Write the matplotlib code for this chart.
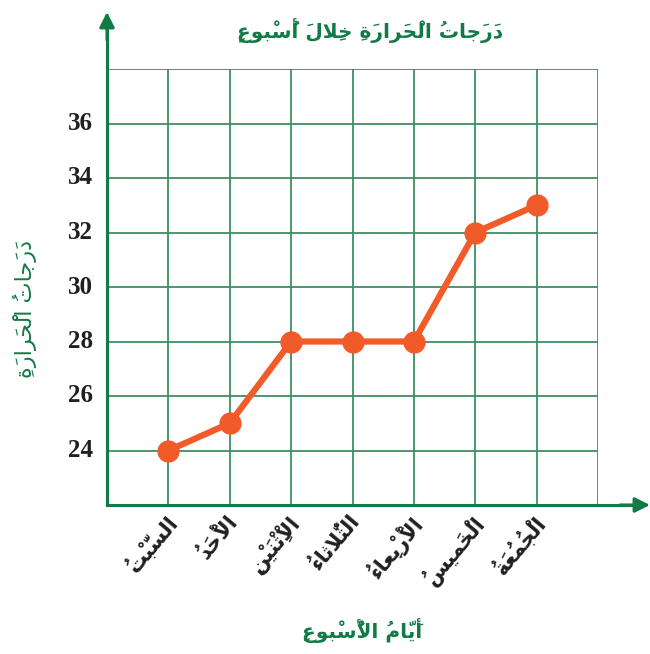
import matplotlib
matplotlib.use("Agg")
import matplotlib.pyplot as plt

# ---- data -------------------------------------------------------------
days = ["السَّبْتُ", "الْأَحَدُ", "الْاِثْنَيْنِ", "الثُّلاثاءُ",
        "الْأَرْبِعاءُ", "الْخَميسُ", "الْجُمُعَةُ"]
temps = [24, 25, 28, 28, 28, 32, 33]
y_ticks = [24, 26, 28, 30, 32, 34, 36]
title = "دَرَجاتُ الْحَرارَةِ خِلالَ أُسْبوعٍ"
x_title = "أَيّامُ الْأُسْبوعِ"
y_title = "دَرَجاتُ الْحَرارَةِ"

# ---- minimal Arabic shaping (presentation forms + visual order) -------
FORMS = {  # isolated, final, initial, medial
    "ء": (0xFE80, None, None, None),
    "آ": (0xFE81, 0xFE82, None, None),
    "أ": (0xFE83, 0xFE84, None, None),
    "ؤ": (0xFE85, 0xFE86, None, None),
    "إ": (0xFE87, 0xFE88, None, None),
    "ئ": (0xFE89, 0xFE8A, 0xFE8B, 0xFE8C),
    "ا": (0xFE8D, 0xFE8E, None, None),
    "ب": (0xFE8F, 0xFE90, 0xFE91, 0xFE92),
    "ة": (0xFE93, 0xFE94, None, None),
    "ت": (0xFE95, 0xFE96, 0xFE97, 0xFE98),
    "ث": (0xFE99, 0xFE9A, 0xFE9B, 0xFE9C),
    "ج": (0xFE9D, 0xFE9E, 0xFE9F, 0xFEA0),
    "ح": (0xFEA1, 0xFEA2, 0xFEA3, 0xFEA4),
    "خ": (0xFEA5, 0xFEA6, 0xFEA7, 0xFEA8),
    "د": (0xFEA9, 0xFEAA, None, None),
    "ذ": (0xFEAB, 0xFEAC, None, None),
    "ر": (0xFEAD, 0xFEAE, None, None),
    "ز": (0xFEAF, 0xFEB0, None, None),
    "س": (0xFEB1, 0xFEB2, 0xFEB3, 0xFEB4),
    "ش": (0xFEB5, 0xFEB6, 0xFEB7, 0xFEB8),
    "ص": (0xFEB9, 0xFEBA, 0xFEBB, 0xFEBC),
    "ض": (0xFEBD, 0xFEBE, 0xFEBF, 0xFEC0),
    "ط": (0xFEC1, 0xFEC2, 0xFEC3, 0xFEC4),
    "ظ": (0xFEC5, 0xFEC6, 0xFEC7, 0xFEC8),
    "ع": (0xFEC9, 0xFECA, 0xFECB, 0xFECC),
    "غ": (0xFECD, 0xFECE, 0xFECF, 0xFED0),
    "ف": (0xFED1, 0xFED2, 0xFED3, 0xFED4),
    "ق": (0xFED5, 0xFED6, 0xFED7, 0xFED8),
    "ك": (0xFED9, 0xFEDA, 0xFEDB, 0xFEDC),
    "ل": (0xFEDD, 0xFEDE, 0xFEDF, 0xFEE0),
    "م": (0xFEE1, 0xFEE2, 0xFEE3, 0xFEE4),
    "ن": (0xFEE5, 0xFEE6, 0xFEE7, 0xFEE8),
    "ه": (0xFEE9, 0xFEEA, 0xFEEB, 0xFEEC),
    "و": (0xFEED, 0xFEEE, None, None),
    "ى": (0xFEEF, 0xFEF0, None, None),
    "ي": (0xFEF1, 0xFEF2, 0xFEF3, 0xFEF4),
}
LAM_ALEF = {"آ": (0xFEF5, 0xFEF6), "أ": (0xFEF7, 0xFEF8),
            "إ": (0xFEF9, 0xFEFA), "ا": (0xFEFB, 0xFEFC)}
MARKS = set(chr(c) for c in range(0x064B, 0x0653)) | {"\u0670"}


def shape(text):
    """Return Arabic text as joined presentation forms in left-to-right order."""
    clusters = []
    for ch in text:
        if ch in MARKS and clusters:
            clusters[-1][1].append(ch)
        else:
            clusters.append([ch, []])
    # lam-alef ligatures
    merged = []
    i = 0
    while i < len(clusters):
        base, marks = clusters[i]
        if base == "ل" and i + 1 < len(clusters) and clusters[i + 1][0] in LAM_ALEF:
            merged.append([("LA", clusters[i + 1][0]), marks + clusters[i + 1][1]])
            i += 2
        else:
            merged.append([base, marks])
            i += 1

    def joins(b):
        return b[0] == "LA" if isinstance(b, tuple) else b in FORMS

    def dual(b):
        return (not isinstance(b, tuple)) and b in FORMS and FORMS[b][2] is not None

    out = []
    for k, (base, marks) in enumerate(merged):
        prev = merged[k - 1][0] if k > 0 else None
        nxt = merged[k + 1][0] if k + 1 < len(merged) else None
        jp = prev is not None and dual(prev) and joins(base)
        jn = dual(base) and nxt is not None and joins(nxt)
        if isinstance(base, tuple):
            iso, fin = LAM_ALEF[base[1]]
            g = chr(fin if jp else iso)
        elif base in FORMS:
            f = FORMS[base]
            if jp and jn:
                g = chr(f[3])
            elif jp:
                g = chr(f[1])
            elif jn:
                g = chr(f[2])
            else:
                g = chr(f[0])
        else:
            g = base
        # zero-width marks sit on the glyph that follows them
        out.append("".join(marks) + g)
    return "".join(reversed(out))


# ---- styling ----------------------------------------------------------
GREEN = "#117a45"
GRID = "#3f8f63"
ORANGE = "#f15a29"
INK = "#231f20"
AR_FONT = ["DejaVu Sans"]
NUM_FONT = ["Liberation Serif", "DejaVu Serif"]

fig = plt.figure(figsize=(6.5, 6.54), dpi=100)
W, H = 650, 654
ax = fig.add_axes([107 / W, 1 - 505 / H, 491 / W, 436 / H])

ax.set_xlim(0, 8)
ax.set_ylim(22, 38)
ax.set_xticks(range(0, 9))
ax.set_yticks(range(22, 39, 2))
ax.grid(True, color=GRID, linewidth=1.3)
ax.tick_params(length=0, labelbottom=False, labelleft=False)
for s in ax.spines.values():
    s.set_visible(False)
ax.set_axisbelow(True)

xs = list(range(1, len(temps) + 1))
ax.plot(xs, temps, color=ORANGE, linewidth=4.5, marker="o", markersize=15,
        markerfacecolor=ORANGE, markeredgecolor=ORANGE, zorder=3,
        solid_capstyle="round")

# axes with arrow heads
fig.add_artist(plt.Line2D([107 / W, 107 / W], [1 - 505 / H, 1 - 25 / H],
                          color=GREEN, linewidth=2.2))
fig.add_artist(plt.Line2D([107 / W, 632 / W], [1 - 505 / H, 1 - 505 / H],
                          color=GREEN, linewidth=2.2))
ax.annotate("", xy=(107 / W, 1 - 12 / H), xytext=(107 / W, 1 - 40 / H),
            xycoords="figure fraction", textcoords="figure fraction",
            arrowprops=dict(arrowstyle="-|>,head_length=0.9,head_width=0.45",
                            color=GREEN, lw=2.2, shrinkA=0, shrinkB=0))
ax.annotate("", xy=(650 / W, 1 - 505 / H), xytext=(620 / W, 1 - 505 / H),
            xycoords="figure fraction", textcoords="figure fraction",
            arrowprops=dict(arrowstyle="-|>,head_length=0.9,head_width=0.45",
                            color=GREEN, lw=2.2, shrinkA=0, shrinkB=0))

# y tick labels
for v in y_ticks:
    ax.annotate(str(v), xy=(0, v), xytext=(-14, 0), textcoords="offset pixels",
                ha="right", va="center", fontsize=18, fontweight="bold",
                family=NUM_FONT, color=INK, annotation_clip=False)

# day labels, rotated
for x, d in zip(xs, days):
    ax.annotate(shape(d), xy=(x, 22), xytext=(-4, -6), textcoords="offset pixels",
                ha="right", va="top", rotation=50, rotation_mode="anchor",
                fontsize=15, fontweight="bold", family=AR_FONT,
                color=INK, annotation_clip=False)

fig.text(370 / W, 1 - 30 / H, shape(title), ha="center", va="center",
         fontsize=14.5, color=GREEN, family=AR_FONT, fontweight="bold")
fig.text(362 / W, 1 - 630 / H, shape(x_title), ha="center", va="center",
         fontsize=14.5, color=GREEN, family=AR_FONT, fontweight="bold")
fig.text(25 / W, 1 - 309 / H, shape(y_title), ha="center", va="center",
         rotation=90, fontsize=16, color=GREEN, family=AR_FONT)

fig.savefig("out.png", dpi=100)
